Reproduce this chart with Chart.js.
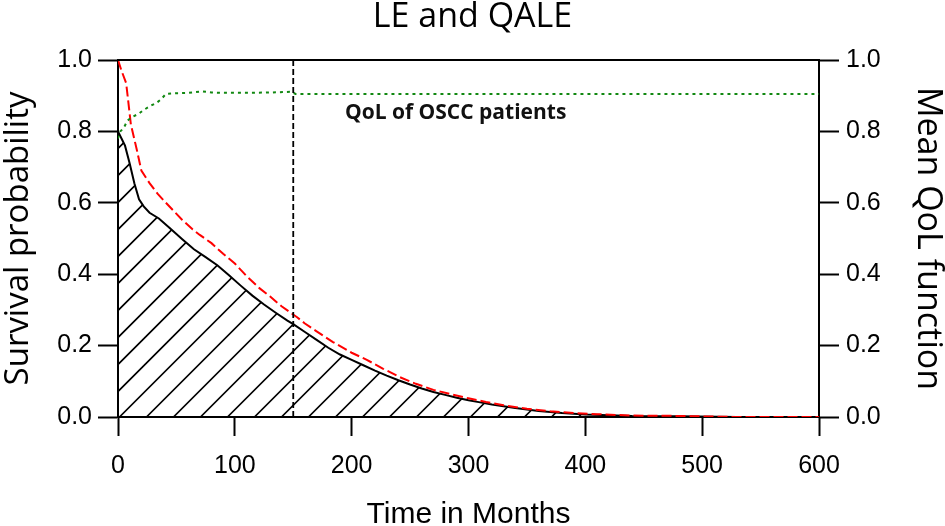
<!DOCTYPE html>
<html>
<head>
<meta charset="utf-8">
<script src="https://cdn.jsdelivr.net/npm/chart.js@4.4.1/dist/chart.umd.min.js"></script>
<style>
  html, body { margin: 0; padding: 0; background: #ffffff; }
  #wrap { width: 945px; height: 526px; }
</style>
</head>
<body>
<div id="wrap"><canvas id="c" width="945" height="526"></canvas></div>
<script>
// ---------- data ----------
const qaleTimes  = [0, 3, 6, 10, 14, 18, 22, 27, 35, 44, 55, 65, 75, 85, 95, 105, 115, 125, 135, 145, 150, 160, 170, 180, 190, 200, 210, 220, 230, 240, 250, 260, 270, 280, 290, 300, 310, 320, 330, 340, 350, 360, 370, 380, 390, 400, 420, 440, 480, 530, 600];
const qaleValues = [0.80, 0.78, 0.76, 0.71, 0.655, 0.61, 0.59, 0.572, 0.556, 0.53, 0.498, 0.47, 0.448, 0.425, 0.397, 0.368, 0.34, 0.315, 0.292, 0.27, 0.26, 0.238, 0.216, 0.194, 0.175, 0.16, 0.145, 0.13, 0.116, 0.103, 0.091, 0.08, 0.07, 0.062, 0.054, 0.047, 0.041, 0.035, 0.03, 0.025, 0.021, 0.017, 0.014, 0.011, 0.009, 0.007, 0.005, 0.003, 0.002, 0.0, 0.0];

const leTimes  = [0, 3, 7, 11, 16, 20, 27, 34, 41, 55, 64, 70, 80, 90, 100, 110, 121, 130, 140, 153, 160, 170, 184, 200, 213, 227, 241, 255, 270, 285, 299, 315, 330, 350, 370, 390, 410, 440, 480, 530, 600];
const leValues = [1.0, 0.97, 0.935, 0.82, 0.75, 0.69, 0.655, 0.625, 0.60, 0.552, 0.525, 0.51, 0.487, 0.457, 0.43, 0.395, 0.361, 0.338, 0.31, 0.28, 0.262, 0.24, 0.21, 0.18, 0.16, 0.135, 0.112, 0.093, 0.076, 0.064, 0.053, 0.042, 0.033, 0.023, 0.016, 0.011, 0.008, 0.004, 0.003, 0.0, 0.0];

const qolTimes  = [0, 2, 5, 8, 12, 18, 22, 27, 33, 37, 41, 50, 60, 72, 80, 90, 110, 130, 148, 152, 600];
const qolValues = [0.78, 0.80, 0.81, 0.83, 0.84, 0.85, 0.86, 0.87, 0.88, 0.89, 0.905, 0.907, 0.908, 0.912, 0.909, 0.908, 0.908, 0.909, 0.911, 0.905, 0.905];

const cutTime = [150, 150];
const cutValues = [0, 1];

const xTickValues = [0, 100, 200, 300, 400, 500, 600];
const yTickValues = [0.0, 0.2, 0.4, 0.6, 0.8, 1.0];

const titleText = 'LE and QALE';
const xTitle = 'Time in Months';
const yLeftTitle = 'Survival probability';
const yRightTitle = 'Mean QoL function';
const noteText = 'QoL of OSCC patients';
const noteAt = { x: 289, y: 0.851 };

// ---------- helpers ----------
const pairs = (xs, ys) => xs.map((x, i) => ({ x: x, y: ys[i] }));

// hatch under the QALE curve, clipped to the area the library computed
const hatchPlugin = {
  id: 'hatch',
  beforeDatasetDraw(chart, args) {
    if (args.index !== 0) return;
    const { ctx, chartArea, scales } = chart;
    const pts = args.meta.data;
    if (!pts.length) return;
    const base = scales.y.getPixelForValue(0);
    ctx.save();
    ctx.beginPath();
    ctx.moveTo(pts[0].x, base);
    pts.forEach(p => ctx.lineTo(p.x, p.y));
    ctx.lineTo(pts[pts.length - 1].x, base);
    ctx.closePath();
    ctx.clip();
    ctx.strokeStyle = '#000';
    ctx.lineWidth = 1.6;
    const step = 27;
    const c0 = chartArea.left + chartArea.bottom + 1.5;
    const L = chartArea.left - 5, R = chartArea.right + 5;
    ctx.beginPath();
    for (let c = c0 - step * 40; c < c0 + step * 40; c += step) {
      ctx.moveTo(L, c - L);
      ctx.lineTo(R, c - R);
    }
    ctx.stroke();
    ctx.restore();
  }
};

const framePlugin = {
  id: 'frame',
  afterDraw(chart) {
    const { ctx, chartArea } = chart;
    ctx.save();
    ctx.strokeStyle = '#000';
    ctx.lineWidth = 2;
    ctx.beginPath();
    ctx.moveTo(chartArea.left, chartArea.top);
    ctx.lineTo(chartArea.right, chartArea.top);
    ctx.stroke();
    ctx.restore();
  }
};

const notePlugin = {
  id: 'note',
  afterDatasetsDraw(chart) {
    const { ctx, scales } = chart;
    ctx.save();
    ctx.font = 'bold 21px "Open Sans"';
    ctx.fillStyle = '#111';
    ctx.textAlign = 'center';
    ctx.textBaseline = 'middle';
    ctx.fillText(noteText, scales.x.getPixelForValue(noteAt.x), scales.y.getPixelForValue(noteAt.y));
    ctx.restore();
  }
};

const tickFont = { family: '"Liberation Sans", Arial, sans-serif', size: 25 };

new Chart(document.getElementById('c'), {
  type: 'line',
  data: {
    datasets: [
      {
        label: 'QALE',
        data: pairs(qaleTimes, qaleValues),
        borderColor: '#000',
        borderWidth: 2,
        pointRadius: 0,
        fill: false,
        yAxisID: 'y',
        order: 3
      },
      {
        label: 'LE',
        data: pairs(leTimes, leValues),
        borderColor: '#ff0000',
        borderWidth: 2,
        borderDash: [10, 4],
        pointRadius: 0,
        fill: false,
        yAxisID: 'y',
        order: 2
      },
      {
        label: 'QoL',
        data: pairs(qolTimes, qolValues),
        borderColor: '#118811',
        borderWidth: 2,
        borderDash: [3, 4],
        pointRadius: 0,
        fill: false,
        yAxisID: 'y2',
        order: 1
      },
      {
        label: 'cut',
        data: pairs(cutTime, cutValues),
        borderColor: '#000',
        borderWidth: 1.8,
        borderDash: [6, 3],
        pointRadius: 0,
        fill: false,
        yAxisID: 'y',
        order: 0
      }
    ]
  },
  options: {
    responsive: false,
    animation: false,
    events: [],
    layout: { padding: 0 },
    plugins: {
      legend: { display: false },
      tooltip: { enabled: false },
      title: {
        display: true,
        text: titleText,
        color: '#000',
        font: { family: '"Open Sans", sans-serif', size: 34, weight: 'normal', lineHeight: 1 },
        padding: { top: 0, bottom: 26 }
      }
    },
    scales: {
      x: {
        type: 'linear',
        min: 0, max: 600,
        afterBuildTicks: (s) => { s.ticks = xTickValues.map(v => ({ value: v })); },
        afterFit: (s) => { s.height = 109; },
        ticks: { color: '#000', font: tickFont, padding: 15, maxRotation: 0, callback: (v) => String(v) },
        grid: { drawOnChartArea: false, drawTicks: true, tickLength: 19, tickWidth: 2, tickColor: '#000' },
        border: { display: true, color: '#000', width: 2 },
        title: {
          display: true, text: xTitle, color: '#000',
          font: { family: '"Liberation Sans", Arial, sans-serif', size: 30, lineHeight: 0.75 },
          padding: { top: 0, bottom: 0 }
        }
      },
      y: {
        type: 'linear', position: 'left',
        min: 0, max: 1,
        afterBuildTicks: (s) => { s.ticks = yTickValues.map(v => ({ value: v })); },
        afterFit: (s) => { s.width = 118; },
        ticks: { color: '#000', font: tickFont, padding: 6, callback: (v) => Number(v).toFixed(1) },
        grid: { drawOnChartArea: false, drawTicks: true, tickLength: 20, tickWidth: 2, tickColor: '#000' },
        border: { display: true, color: '#000', width: 2 },
        title: {
          display: true, text: yLeftTitle, color: '#000',
          font: { family: '"Open Sans", sans-serif', size: 33, lineHeight: 1 },
          padding: { top: 2, bottom: 0 }
        }
      },
      y2: {
        type: 'linear', position: 'right',
        min: 0, max: 1,
        afterBuildTicks: (s) => { s.ticks = yTickValues.map(v => ({ value: v })); },
        afterFit: (s) => { s.width = 126; },
        ticks: { color: '#000', font: tickFont, padding: 7, callback: (v) => Number(v).toFixed(1) },
        grid: { drawOnChartArea: false, drawTicks: true, tickLength: 20, tickWidth: 2, tickColor: '#000' },
        border: { display: true, color: '#000', width: 2 },
        title: {
          display: true, text: yRightTitle, color: '#000',
          font: { family: '"Open Sans", sans-serif', size: 34, lineHeight: 1 },
          padding: { top: 0, bottom: 0 }
        }
      }
    }
  },
  plugins: [hatchPlugin, framePlugin, notePlugin]
});
</script>
</body>
</html>
